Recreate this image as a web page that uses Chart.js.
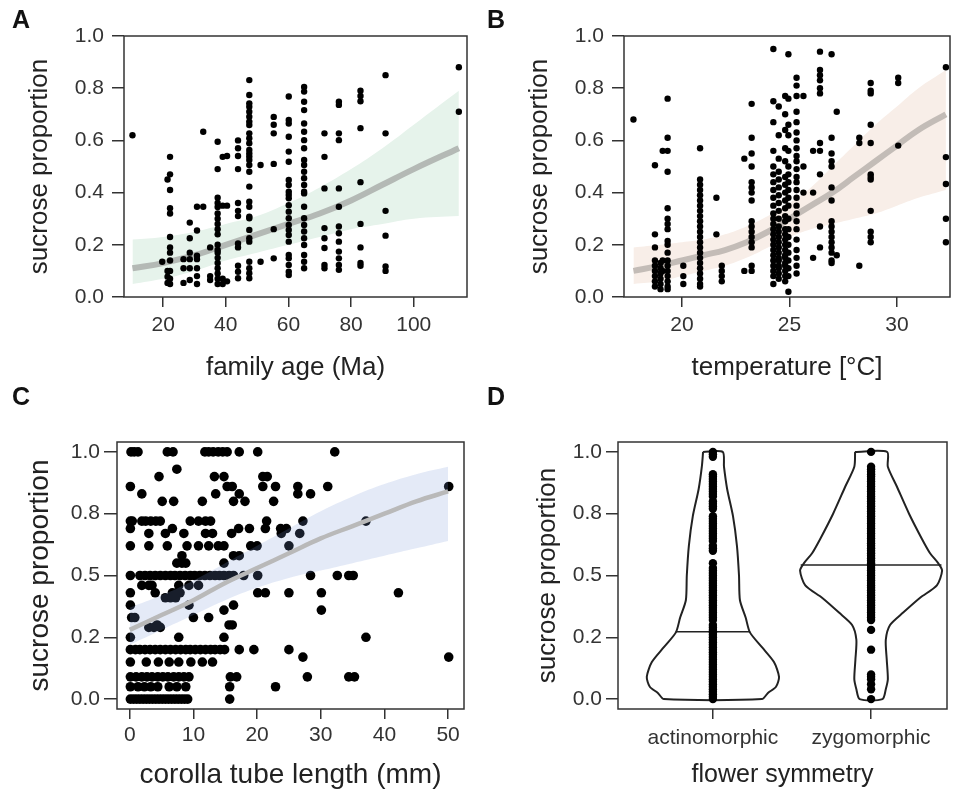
<!DOCTYPE html>
<html>
<head>
<meta charset="utf-8">
<script src="https://cdn.jsdelivr.net/npm/chart.js@4.4.0/dist/chart.umd.min.js"></script>
<style>
  body { margin: 0; background: #fff; width: 966px; height: 792px; position: relative; overflow: hidden; font-family: "Liberation Sans", Arial, sans-serif; }
  .panel { position: absolute; width: 483px; height: 396px; }
  .letter { position: absolute; font-weight: bold; font-size: 25px; color: #111; line-height: 1; }
</style>
</head>
<body>
<div class="panel" style="left:0;top:0"><canvas id="chartA" width="483" height="396"></canvas></div>
<div class="panel" style="left:483px;top:0"><canvas id="chartB" width="483" height="396"></canvas></div>
<div class="panel" style="left:0;top:396px"><canvas id="chartC" width="483" height="396"></canvas></div>
<div class="panel" style="left:483px;top:396px"><canvas id="chartD" width="483" height="396"></canvas></div>
<div class="letter" style="left:12px;top:7px">A</div>
<div class="letter" style="left:487px;top:7px">B</div>
<div class="letter" style="left:12px;top:384px">C</div>
<div class="letter" style="left:487px;top:384px">D</div>
<script>
// ---- panel A: family age ----
const ageCols = [10.2, 19.7, 21.4, 22.2, 26.5, 28.5, 30.8, 32.8, 35.0, 37.4, 39.0, 40.4, 43.9, 47.5, 51.1, 55.3, 60.1, 65.0, 71.5, 76.1, 83.0, 91.0, 114.4];
const ageColY = [
  [0.62],
  [0.135],
  [0.45, 0.10, 0.078, 0.054],
  [0.537, 0.47, 0.41, 0.34, 0.32, 0.23, 0.19, 0.17, 0.14, 0.10, 0.07, 0.05],
  [0.145, 0.11, 0.054],
  [0.285, 0.225, 0.17, 0.145, 0.11, 0.065],
  [0.346, 0.255, 0.158, 0.145, 0.11, 0.08, 0.05],
  [0.633, 0.346],
  [0.19, 0.08, 0.065],
  [0.595, 0.49, 0.38, 0.36, 0.345, 0.32, 0.30, 0.28, 0.26, 0.24, 0.20, 0.18, 0.17, 0.15, 0.13, 0.11, 0.09, 0.07, 0.05],
  [0.537, 0.35, 0.07, 0.05],
  [0.54, 0.35, 0.06],
  [0.60, 0.57, 0.54, 0.49, 0.36, 0.33, 0.31, 0.205, 0.19, 0.12, 0.097, 0.072],
  [0.831, 0.774, 0.742, 0.729, 0.71, 0.691, 0.672, 0.659, 0.627, 0.608, 0.589, 0.563, 0.55, 0.538, 0.525, 0.506, 0.48, 0.423, 0.365, 0.346, 0.308, 0.302, 0.257, 0.225, 0.212, 0.135, 0.11, 0.091, 0.072],
  [0.506, 0.135],
  [0.69, 0.66, 0.627, 0.51, 0.26, 0.148],
  [0.768, 0.678, 0.665, 0.614, 0.557, 0.518, 0.448, 0.429, 0.403, 0.391, 0.378, 0.352, 0.327, 0.302, 0.276, 0.257, 0.238, 0.212, 0.161, 0.148, 0.123, 0.097, 0.084],
  [0.805, 0.787, 0.748, 0.716, 0.665, 0.633, 0.601, 0.57, 0.525, 0.506, 0.48, 0.455, 0.429, 0.403, 0.397, 0.346, 0.302, 0.276, 0.251, 0.225, 0.199, 0.161, 0.135, 0.11],
  [0.627, 0.537, 0.416, 0.264, 0.225, 0.188, 0.123, 0.11],
  [0.748, 0.736, 0.627, 0.601, 0.416, 0.346, 0.27, 0.244, 0.212, 0.174, 0.148, 0.123, 0.104],
  [0.79, 0.77, 0.75, 0.647, 0.44, 0.28, 0.19, 0.13, 0.12],
  [0.85, 0.627, 0.33, 0.235, 0.117, 0.10],
  [0.88, 0.71]
];
const ageCurveX = [10.2, 20, 30, 40, 50, 60, 70, 80, 90, 100, 114.4];
const ageCurveY = [0.11, 0.13, 0.16, 0.20, 0.24, 0.28, 0.32, 0.37, 0.43, 0.49, 0.57];
const ageBandHi = [0.22, 0.23, 0.25, 0.28, 0.31, 0.36, 0.42, 0.49, 0.57, 0.66, 0.79];
const ageBandLo = [0.05, 0.07, 0.10, 0.14, 0.17, 0.20, 0.23, 0.26, 0.28, 0.30, 0.31];
const ageTicks = [20, 40, 60, 80, 100];

// ---- panel B: temperature ----
const tempCols = [17.74, 18.74, 19.0, 19.1, 19.33, 20.06, 20.84, 21.6, 21.85, 22.9, 23.24, 24.25, 24.5, 24.8, 24.95, 25.33, 25.65, 26.1, 26.42, 26.96, 27.2, 28.25, 28.78, 30.06, 32.28];
const tempColY = [
  [0.68],
  [0.505, 0.24, 0.19, 0.14, 0.12, 0.10, 0.08, 0.06, 0.04],
  [0.13, 0.11, 0.09, 0.07, 0.05, 0.03],
  [0.56, 0.14, 0.10],
  [0.76, 0.61, 0.56, 0.48, 0.34, 0.30, 0.28, 0.26, 0.215, 0.20, 0.17, 0.14, 0.12, 0.10, 0.08, 0.06, 0.04, 0.03],
  [0.12, 0.08, 0.05],
  [0.57, 0.45, 0.43, 0.41, 0.39, 0.37, 0.35, 0.33, 0.31, 0.29, 0.27, 0.25, 0.23, 0.21, 0.19, 0.17, 0.15, 0.13, 0.11, 0.09, 0.07, 0.05, 0.04],
  [0.38, 0.24],
  [0.12, 0.10, 0.08, 0.06],
  [0.53, 0.10],
  [0.74, 0.61, 0.55, 0.50, 0.44, 0.42, 0.40, 0.37, 0.29, 0.27, 0.25, 0.23, 0.21, 0.19, 0.12, 0.10],
  [0.95, 0.75, 0.67, 0.56, 0.50, 0.47, 0.44, 0.41, 0.38, 0.35, 0.32, 0.30, 0.28, 0.26, 0.24, 0.22, 0.20, 0.18, 0.16, 0.14, 0.12, 0.10, 0.08, 0.05],
  [0.73, 0.62, 0.53, 0.48, 0.45, 0.42, 0.39, 0.36, 0.33, 0.30, 0.27, 0.25, 0.23, 0.21, 0.19, 0.17, 0.15, 0.14, 0.12, 0.11, 0.09, 0.07],
  [0.77, 0.70, 0.64, 0.57, 0.52, 0.46, 0.43, 0.40, 0.37, 0.34, 0.31, 0.29, 0.26, 0.24, 0.22, 0.20, 0.18, 0.16, 0.15, 0.13, 0.12, 0.10, 0.08, 0.06],
  [0.93, 0.76, 0.66, 0.62, 0.56, 0.50, 0.47, 0.44, 0.41, 0.38, 0.35, 0.30, 0.26, 0.23, 0.20, 0.17, 0.14, 0.11, 0.08, 0.02],
  [0.84, 0.81, 0.77, 0.71, 0.67, 0.63, 0.60, 0.57, 0.54, 0.52, 0.49, 0.46, 0.44, 0.41, 0.38, 0.35, 0.32, 0.29, 0.26, 0.22, 0.18, 0.15, 0.12, 0.09],
  [0.77, 0.50, 0.40],
  [0.56, 0.40, 0.15],
  [0.94, 0.87, 0.85, 0.83, 0.80, 0.78, 0.59, 0.56, 0.47, 0.27, 0.19],
  [0.93, 0.61, 0.55, 0.52, 0.50, 0.42, 0.37, 0.29, 0.27, 0.25, 0.23, 0.21, 0.19, 0.17, 0.14, 0.13],
  [0.71, 0.16],
  [0.61, 0.59, 0.12],
  [0.82, 0.79, 0.78, 0.66, 0.59, 0.47, 0.46, 0.45, 0.33, 0.25, 0.23, 0.21],
  [0.84, 0.82, 0.58],
  [0.88, 0.536, 0.433, 0.30, 0.21]
];
const tempCurveX = [17.74, 19, 20, 21, 22, 23, 24, 25, 26, 27, 28, 29, 30, 31, 32.28];
const tempCurveY = [0.10, 0.12, 0.14, 0.16, 0.18, 0.21, 0.25, 0.30, 0.35, 0.40, 0.46, 0.52, 0.58, 0.64, 0.70];
const tempBandHi = [0.19, 0.20, 0.21, 0.22, 0.24, 0.27, 0.31, 0.36, 0.42, 0.50, 0.58, 0.66, 0.73, 0.80, 0.87];
const tempBandLo = [0.05, 0.06, 0.08, 0.10, 0.12, 0.15, 0.19, 0.23, 0.26, 0.28, 0.30, 0.32, 0.35, 0.38, 0.41];
const tempTicks = [20, 25, 30];

// ---- panel C: corolla tube length ----
const tubeLevels = [1.0, 0.93, 0.9, 0.86, 0.83, 0.8, 0.72, 0.69, 0.67, 0.62, 0.58, 0.55, 0.5, 0.46, 0.43, 0.41, 0.38, 0.36, 0.33, 0.3, 0.29, 0.25, 0.2, 0.17, 0.15, 0.09, 0.05, 0.0];
const tubeRowX = [
  [0.2, 0.7, 1.3, 5.9, 6.8, 11.8, 12.4, 13.1, 13.9, 14.6, 15.3, 17.2, 20.1, 32.2],
  [7.4],
  [4.6, 13.3, 14.8, 20.9, 21.6],
  [0.1, 15.3, 16.1, 20.9, 22.9, 26.4, 31.1, 50.1],
  [1.9, 13.5, 17.2, 26.4, 28.4],
  [5.1, 6.9, 11.4, 16.3, 18.1, 22.6],
  [0.1, 0.4, 1.9, 2.5, 3.3, 4.1, 4.8, 9.5, 10.8, 11.9, 12.7, 21.5, 27.2, 37.1],
  [0.1, 6.7, 17.1, 18.8, 21.3, 23.7, 24.6],
  [3.0, 5.6, 8.5, 11.9, 13.0, 16.0, 23.8, 26.7],
  [0.1, 3.0, 5.9, 9.0, 10.8, 12.4, 13.9, 14.8, 19.0, 20.0, 25.0],
  [8.2, 16.3, 17.2],
  [7.4, 8.2, 8.8, 14.8],
  [0.1, 1.6, 2.4, 3.2, 4.0, 4.8, 5.6, 6.4, 7.1, 7.9, 8.7, 9.5, 10.2, 11.0, 11.8, 12.6, 13.4, 14.1, 14.8, 15.6, 16.3, 17.9, 20.1, 28.4, 32.6, 34.4, 35.1],
  [1.9, 3.0, 3.5, 7.7, 9.3, 10.8],
  [0.1, 4.0, 6.7, 7.4, 7.9, 20.1, 21.3, 25.0, 30.1, 42.2],
  [5.6, 6.4, 7.2],
  [0.1, 9.3, 16.3],
  [14.8, 30.1],
  [0.3, 0.8, 10.0, 12.4],
  [4.3, 15.6, 16.1],
  [3.0, 3.8, 4.8],
  [0.1, 7.7, 14.8, 37.1],
  [0.1, 0.9, 1.6, 2.4, 3.2, 4.0, 4.8, 5.6, 6.4, 7.2, 8.0, 8.8, 9.5, 10.3, 11.1, 11.9, 12.7, 13.4, 14.2, 14.9, 17.2, 19.5, 25.0],
  [27.2, 50.1],
  [0.1, 2.6, 4.5, 6.2, 7.7, 9.6, 11.4, 13.0],
  [0.1, 1.0, 1.9, 2.7, 3.5, 4.4, 5.2, 6.0, 6.9, 7.7, 8.5, 9.3, 15.8, 16.8, 27.9, 34.4, 35.3],
  [0.1, 1.3, 2.3, 3.3, 4.4, 6.2, 7.4, 8.8, 15.7, 22.9],
  [0.1, 0.6, 1.1, 1.6, 2.1, 2.6, 3.1, 3.6, 4.1, 4.6, 5.1, 5.6, 6.1, 6.6, 7.1, 7.6, 8.1, 8.6, 9.1, 15.7]
];
const tubeCurveX = [0, 5, 10, 15, 20, 25, 30, 35, 40, 45, 50];
const tubeCurveY = [0.28, 0.34, 0.40, 0.47, 0.53, 0.59, 0.65, 0.70, 0.75, 0.80, 0.84];
const tubeBandHi = [0.37, 0.42, 0.48, 0.55, 0.62, 0.69, 0.76, 0.82, 0.87, 0.91, 0.94];
const tubeBandLo = [0.22, 0.28, 0.34, 0.40, 0.45, 0.49, 0.52, 0.55, 0.58, 0.61, 0.64];
const tubeTicks = [0, 10, 20, 30, 40, 50];

// ---- panel D: flower symmetry ----
const symmetryCats = ['actinomorphic', 'zygomorphic'];
const actinoY = [1.0, 0.99, 0.98, 0.91, 0.9, 0.89, 0.88, 0.87, 0.86, 0.85, 0.84, 0.83, 0.82, 0.8, 0.79, 0.78, 0.77,
  0.74, 0.73, 0.72, 0.71, 0.7, 0.69, 0.68, 0.67, 0.66, 0.65, 0.64, 0.62, 0.61, 0.6, 0.55,
  0.53, 0.52, 0.51, 0.5, 0.49, 0.48, 0.47, 0.46, 0.45, 0.44, 0.43, 0.42, 0.41, 0.4, 0.39, 0.38, 0.37, 0.36, 0.35, 0.34, 0.33,
  0.32, 0.3, 0.29, 0.28, 0.27, 0.26, 0.25, 0.24, 0.23, 0.22, 0.21, 0.2, 0.19, 0.18, 0.17, 0.16, 0.15, 0.14, 0.13, 0.12,
  0.11, 0.1, 0.09, 0.08, 0.07, 0.06, 0.05, 0.04, 0.03, 0.02, 0.01, 0.0];
const zygoY = [1.0, 0.94, 0.93, 0.92, 0.91, 0.9, 0.89, 0.88, 0.87, 0.86, 0.85, 0.84, 0.83, 0.82, 0.81, 0.8, 0.79, 0.78, 0.77,
  0.76, 0.75, 0.74, 0.73, 0.72, 0.71, 0.7, 0.69, 0.68, 0.67, 0.66, 0.65, 0.64, 0.63, 0.62, 0.61, 0.6, 0.59, 0.58, 0.57,
  0.56, 0.55, 0.54, 0.53, 0.52, 0.51, 0.5, 0.49, 0.48, 0.47, 0.46, 0.45, 0.44, 0.43, 0.42, 0.41, 0.4, 0.39, 0.38, 0.37,
  0.36, 0.35, 0.34, 0.33, 0.32, 0.28, 0.2, 0.1, 0.09, 0.08, 0.06, 0.04, 0.0];
const actinoViolinY = [1.0, 0.94, 0.85, 0.74, 0.62, 0.5, 0.4, 0.33, 0.27, 0.21, 0.15, 0.09, 0.05, 0.025, 0.0];
const actinoViolinW = [0.062, 0.07, 0.09, 0.127, 0.152, 0.165, 0.171, 0.207, 0.234, 0.31, 0.386, 0.418, 0.399, 0.348, 0.31];
const zygoViolinY = [1.0, 0.94, 0.86, 0.75, 0.65, 0.59, 0.55, 0.52, 0.46, 0.41, 0.35, 0.3, 0.24, 0.16, 0.08, 0.04, 0.0];
const zygoViolinW = [0.101, 0.106, 0.163, 0.24, 0.32, 0.373, 0.424, 0.449, 0.416, 0.31, 0.203, 0.12, 0.093, 0.099, 0.106, 0.093, 0.072];
const violinMedian = [0.272, 0.542];
const medianHalfW = [0.236, 0.445];

const propTicks = [0, 0.2, 0.4, 0.6, 0.8, 1.0];
const propTicks4 = [0, 0.25, 0.5, 0.75, 1.0];
const propLabels4 = ['0.0', '0.2', '0.5', '0.8', '1.0'];

const FONT = '"Liberation Sans", Arial, sans-serif';

// draws the frame around the plotting region
const boxPlugin = {
  id: 'box',
  afterDatasetsDraw(chart) {
    const { ctx, chartArea: a } = chart;
    ctx.save();
    ctx.strokeStyle = '#333';
    ctx.lineWidth = 1.5;
    ctx.strokeRect(a.left, a.top, a.right - a.left, a.bottom - a.top);
    ctx.restore();
  }
};

function axisOpts(o) {
  const left = o.pos === 'left';
  return {
    type: 'linear', position: o.pos, min: o.min, max: o.max,
    afterBuildTicks: s => { s.ticks = o.ticks.map(v => ({ value: v })); },
    afterFit: s => { if (left) s.width = o.size; else s.height = o.size; },
    ticks: {
      font: { family: FONT, size: 21 }, color: '#333', padding: o.tickPad,
      autoSkip: false, maxRotation: 0,
      callback: (v, i) => o.labels ? o.labels[i] : (o.fmt ? o.fmt(v) : v)
    },
    grid: { drawOnChartArea: false, drawTicks: true, tickLength: o.tickLen, color: '#333', lineWidth: 1.5 },
    border: { display: false },
    title: {
      display: true, text: o.title, color: '#222',
      font: { family: FONT, size: o.titleSize },
      padding: left ? { top: o.titlePad, bottom: 0 } : { top: 0, bottom: o.titlePad }
    }
  };
}

function pts(cols, colY) {
  return cols.flatMap((x, i) => colY[i].map(y => ({ x, y })));
}
function line(xs, ys) {
  return xs.map((x, i) => ({ x, y: ys[i] }));
}

function makeChart(id, datasets, pad, xAxis, yAxis) {
  return new Chart(document.getElementById(id), {
    type: 'scatter',
    data: { datasets },
    options: {
      responsive: false, animation: false, events: [],
      layout: { padding: pad },
      plugins: { legend: { display: false }, tooltip: { enabled: false } },
      scales: { x: axisOpts(xAxis), y: axisOpts(yAxis) }
    },
    plugins: [boxPlugin]
  });
}

function trendSets(xs, ys, hi, lo, curveColor, curveWidth, bandColor, pointSet, bandOnTop) {
  return [
    { type: 'scatter', data: pointSet.data, pointRadius: pointSet.r, pointBackgroundColor: '#000', pointBorderWidth: 0, order: bandOnTop ? 3 : 0 },
    { type: 'line', data: line(xs, ys), borderColor: curveColor, borderWidth: curveWidth, pointRadius: 0, tension: 0.4, fill: false, order: bandOnTop ? 0 : 1 },
    { type: 'line', data: line(xs, hi), borderWidth: 0, borderColor: 'rgba(0,0,0,0)', pointRadius: 0, tension: 0.4, fill: '+1', backgroundColor: bandColor, order: bandOnTop ? 1 : 2 },
    { type: 'line', data: line(xs, lo), borderWidth: 0, borderColor: 'rgba(0,0,0,0)', pointRadius: 0, tension: 0.4, fill: false, order: bandOnTop ? 2 : 3 }
  ];
}

// A
makeChart('chartA',
  trendSets(ageCurveX, ageCurveY, ageBandHi, ageBandLo, '#b4b9b5', 6, '#e6f3eb', { data: pts(ageCols, ageColY), r: 3.2 }, false),
  { top: 36, right: 16, left: 0, bottom: 0 },
  { pos: 'bottom', min: 7.5, max: 117, ticks: ageTicks, size: 99, tickLen: 10, tickPad: 6, title: 'family age (Ma)', titleSize: 26, titlePad: 13 },
  { pos: 'left', min: 0, max: 1, ticks: propTicks, fmt: v => v.toFixed(1), size: 124, tickLen: 12, tickPad: 8, title: 'sucrose proportion', titleSize: 26, titlePad: 24 }
);

// B
makeChart('chartB',
  trendSets(tempCurveX, tempCurveY, tempBandHi, tempBandLo, '#c3bcb7', 6, '#f8eee8', { data: pts(tempCols, tempColY), r: 3.2 }, false),
  { top: 36, right: 16, left: 0, bottom: 0 },
  { pos: 'bottom', min: 17.3, max: 32.47, ticks: tempTicks, size: 99, tickLen: 10, tickPad: 6, title: 'temperature [°C]', titleSize: 26, titlePad: 13 },
  { pos: 'left', min: 0, max: 1, ticks: propTicks, fmt: v => v.toFixed(1), size: 141, tickLen: 12, tickPad: 8, title: 'sucrose proportion', titleSize: 26, titlePad: 41 }
);

// C
const tubePts = tubeLevels.flatMap((y, i) => tubeRowX[i].map(x => ({ x, y })));
makeChart('chartC',
  trendSets(tubeCurveX, tubeCurveY, tubeBandHi, tubeBandLo, '#b9b9b9', 4.5, 'rgba(120,150,215,0.2)', { data: tubePts, r: 4.8 }, true),
  { top: 46, right: 19, left: 0, bottom: 0 },
  { pos: 'bottom', min: -2, max: 52.5, ticks: tubeTicks, size: 83, tickLen: 10, tickPad: 4, title: 'corolla tube length (mm)', titleSize: 28, titlePad: 0 },
  { pos: 'left', min: -0.04, max: 1.04, ticks: propTicks4, labels: propLabels4, size: 117, tickLen: 13, tickPad: 4, title: 'sucrose proportion', titleSize: 28, titlePad: 23 }
);

// D
function violin(center, ys, ws) {
  const leftSide = ys.map((y, i) => ({ x: center - ws[i], y }));
  const rightSide = ys.map((y, i) => ({ x: center + ws[i], y })).reverse();
  return leftSide.concat(rightSide, [leftSide[0]]);
}
const violinSets = [
  { center: 1, ys: actinoViolinY, ws: actinoViolinW, pts: actinoY },
  { center: 2, ys: zygoViolinY, ws: zygoViolinW, pts: zygoY }
].flatMap((v, i) => [
  { type: 'scatter', data: v.pts.map(y => ({ x: v.center, y })), pointRadius: 4.2, pointBackgroundColor: '#000', pointBorderWidth: 0, order: 0 },
  { type: 'line', data: violin(v.center, v.ys, v.ws), borderColor: '#222', borderWidth: 2, pointRadius: 0, tension: 0.25, fill: false, order: 1 },
  { type: 'line', data: [{ x: v.center - medianHalfW[i], y: violinMedian[i] }, { x: v.center + medianHalfW[i], y: violinMedian[i] }], borderColor: '#222', borderWidth: 1.5, pointRadius: 0, fill: false, order: 1 }
]);
makeChart('chartD',
  violinSets,
  { top: 46, right: 19, left: 0, bottom: 0 },
  { pos: 'bottom', min: 0.4, max: 2.48, ticks: [1, 2], labels: symmetryCats, size: 83, tickLen: 10, tickPad: 7, title: 'flower symmetry', titleSize: 25, titlePad: 2 },
  { pos: 'left', min: -0.04, max: 1.04, ticks: propTicks4, labels: propLabels4, size: 135, tickLen: 12, tickPad: 4, title: 'sucrose proportion', titleSize: 26, titlePad: 49 }
);
</script>
</body>
</html>
